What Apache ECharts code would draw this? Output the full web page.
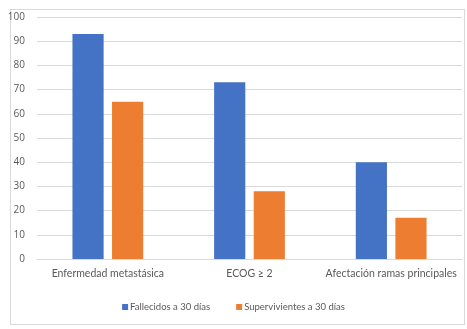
<!DOCTYPE html>
<html>
<head>
<meta charset="utf-8">
<script src="https://cdn.jsdelivr.net/npm/echarts@6/dist/echarts.min.js"></script>
<style>
  html, body { margin: 0; padding: 0; background: #fff; }
  #box {
    position: absolute; left: 10px; top: 9px; width: 455px; height: 316px;
    border: 1px solid #d9d9d9; box-sizing: border-box;
  }
  #chart { position: absolute; left: 0; top: 0; width: 467px; height: 329px; }
</style>
</head>
<body>
<div id="box"></div>
<div id="chart"></div>
<script>
  // datos
  let categorias = ['Enfermedad metastásica', 'ECOG ≥ 2', 'Afectación ramas principales'];
  let fallecidos = [93, 73, 40];
  let supervivientes = [65, 28, 17];

  let chart = echarts.init(document.getElementById('chart'));
  chart.setOption({
    animation: false,
    textStyle: { fontFamily: 'Lato, "Open Sans", sans-serif' },
    grid: { left: 37, right: 5, top: 17, bottom: 70, containLabel: false },
    legend: {
      data: ['Fallecidos a 30 días', 'Supervivientes a 30 días'],
      bottom: 12,
      left: 'center',
      itemWidth: 6, itemHeight: 6, itemGap: 26, itemStyle: { borderWidth: 0 },
      icon: 'rect',
      textStyle: { color: '#595959', fontSize: 9.5, padding: [0, 0, 0, -3] }
    },
    xAxis: {
      type: 'category',
      data: categorias,
      axisLine: { lineStyle: { color: '#d9d9d9' } },
      axisTick: { show: false },
      axisLabel: { color: '#595959', fontSize: 10.5, margin: 9, interval: 0 }
    },
    yAxis: {
      type: 'value',
      min: 0, max: 100, interval: 10,
      splitLine: { lineStyle: { color: '#d9d9d9' } },
      axisLine: { show: false },
      axisTick: { show: false },
      axisLabel: { color: '#595959', margin: 12, fontFamily: '"Open Sans", sans-serif', fontSize: 10 }
    },
    series: [
      {
        name: 'Fallecidos a 30 días',
        type: 'bar',
        data: fallecidos,
        barWidth: '22%',
        barGap: '27%',
        itemStyle: { color: '#4472C4' }
      },
      {
        name: 'Supervivientes a 30 días',
        type: 'bar',
        data: supervivientes,
        barWidth: '22%',
        itemStyle: { color: '#ED7D31' }
      }
    ]
  });
</script>
</body>
</html>
